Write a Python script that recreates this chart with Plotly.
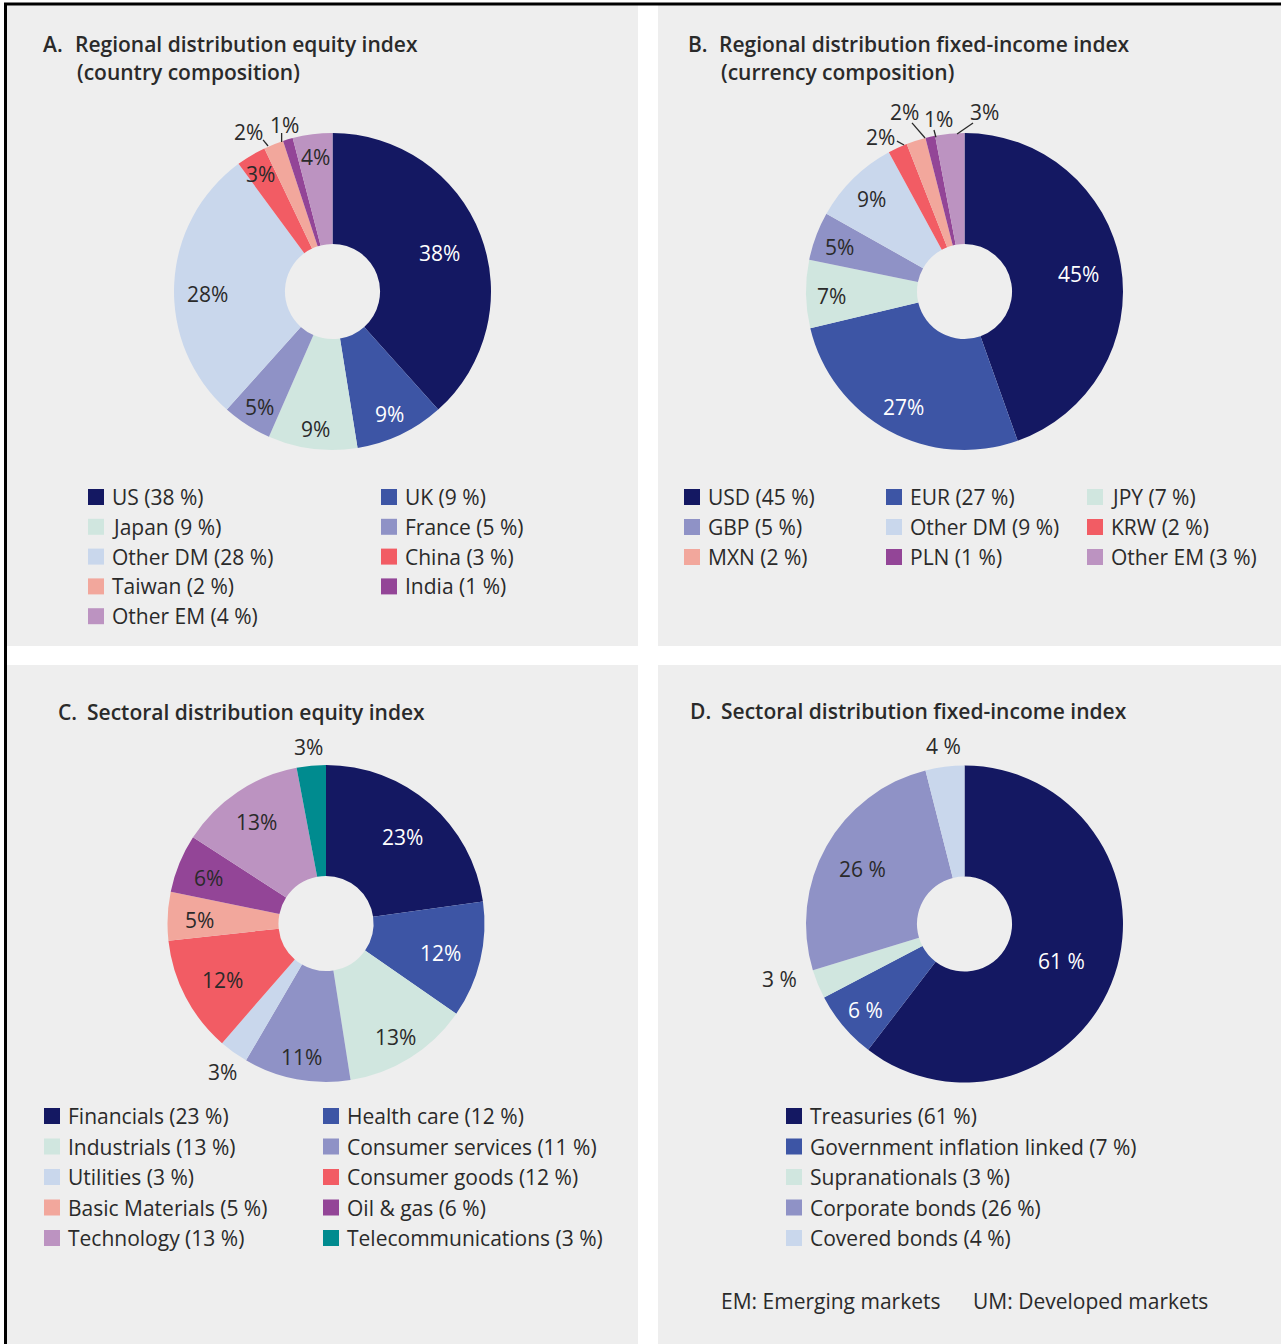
import math
import plotly.graph_objects as go

W, H = 1281, 1344

# ---------------- data ----------------
A_labels = ["US", "UK", "Japan", "France", "Other DM", "China", "Taiwan", "India", "Other EM"]
A_values = [38, 9, 9, 5, 28, 3, 2, 1, 4]

B_labels = ["USD", "EUR", "JPY", "GBP", "Other DM", "KRW", "MXN", "PLN", "Other EM"]
B_values = [45, 27, 7, 5, 9, 2, 2, 1, 3]

C_labels = ["Financials", "Health care", "Industrials", "Consumer services", "Utilities",
            "Consumer goods", "Basic Materials", "Oil & gas", "Technology", "Telecommunications"]
C_values = [23, 12, 13, 11, 3, 12, 5, 6, 13, 3]

D_labels = ["Treasuries", "Government inflation linked", "Supranationals", "Corporate bonds", "Covered bonds"]
D_values = [61, 7, 3, 26, 4]
D_slice_text = ["61 %", "6 %", "3 %", "26 %", "4 %"]

# ---------------- styles ----------------
NAVY = "#141862"; BLUE = "#3d55a5"; MINT = "#d0e6df"; LAV = "#8f92c6"; LBLUE = "#c9d7ec"
RED = "#f25c64"; SALMON = "#f2a79c"; PURPLE = "#934597"; LPURP = "#bc93c1"; TEAL = "#008b8f"
BG = "#eeeeee"
TXT = "#2a2a2a"
FONT = "Open Sans"
FS = 21
LBL_DY = 2.5  # visual centering nudge for inside slice labels

A_colors = [NAVY, BLUE, MINT, LAV, LBLUE, RED, SALMON, PURPLE, LPURP]
B_colors = [NAVY, BLUE, MINT, LAV, LBLUE, RED, SALMON, PURPLE, LPURP]
C_colors = [NAVY, BLUE, MINT, LAV, LBLUE, RED, SALMON, PURPLE, LPURP, TEAL]
D_colors = [NAVY, BLUE, MINT, LAV, LBLUE]
WHITE_ON = {NAVY, BLUE}

# label placement: (angle override in deg or None, radius factor)
A_lbl = [(None, .72), (None, .84), (None, .86), (None, .85), (270.0, .79), (None, .88),
         (332.1, 1.139), (343.8, 1.094), (None, .87)]
A_lines = {6: ((336.1, 1.004), (335.4, 1.052)), 7: ((341.2, 0.996), (342.2, 1.05))}
B_lbl = [(None, .73), (None, .81), (None, .84), (None, .84), (None, .84),
         (331.3, 1.11), (341.4, 1.195), (351.3, 1.10), (6.5, 1.14)]
B_lines = {5: ((337.6, 1.0), (335.8, 1.04)), 6: ((345.6, 1.0), (342.7, 1.114)),
           7: ((349.5, 0.99), (349.3, 1.037)), 8: ((357.3, 0.995), (2.9, 1.064))}
C_lbl = [(None, .74), (None, .74), (None, .83), (None, .84), (215, 1.14), (None, .74),
         (None, .80), (None, .80), (None, .79), (354.5, 1.12)]
D_lbl = [(109.7, .65), (None, .82), (253.5, 1.22), (None, .74), (353.4, 1.13)]


def px(x):
    return x / W


def py(y):
    return 1 - y / H


fig = go.Figure()
shapes = []
annotations = []

# panels
for (x0, y0, x1, y1) in [(7, 5, 638, 646), (658, 5, 1281, 646), (7, 665, 638, 1344), (658, 665, 1281, 1344)]:
    shapes.append(dict(type="rect", xref="paper", yref="paper", x0=px(x0), x1=px(x1), y0=py(y1), y1=py(y0),
                       fillcolor=BG, line=dict(width=0), layer="below"))
# frame lines
shapes.append(dict(type="line", xref="paper", yref="paper", x0=px(4), x1=px(1281), y0=py(4), y1=py(4),
                   line=dict(color="black", width=3), layer="above"))
shapes.append(dict(type="line", xref="paper", yref="paper", x0=px(5.5), x1=px(5.5), y0=py(1344), y1=py(3),
                   line=dict(color="black", width=3), layer="above"))


def add_pie(labels, values, colors, texts, cx, cy, R, hole, lbl, lines):
    fig.add_trace(go.Pie(
        labels=labels, values=values, sort=False, direction="clockwise", rotation=0,
        hole=hole, textinfo="none", hoverinfo="label+value",
        marker=dict(colors=colors, line=dict(width=0)),
        domain=dict(x=[px(cx - R), px(cx + R)], y=[py(cy + R), py(cy - R)]),
        showlegend=False))
    total = float(sum(values))
    cum = 0.0
    for i, v in enumerate(values):
        mid = (cum + v / 2) / total * 360
        cum += v
        ang, rf = lbl[i]
        a = math.radians(mid if ang is None else ang)
        x = cx + rf * R * math.sin(a)
        y = cy - rf * R * math.cos(a) + (LBL_DY if rf < 1 else 0)
        col = "white" if (rf < 1 and colors[i] in WHITE_ON) else TXT
        annotations.append(dict(x=px(x), y=py(y), xref="paper", yref="paper", text=texts[i],
                                showarrow=False, xanchor="center", yanchor="middle",
                                font=dict(family=FONT, size=FS, color=col)))
        if i in lines:
            (a1, r1), (a2, r2) = lines[i]
            x1 = cx + r1 * R * math.sin(math.radians(a1)); y1 = cy - r1 * R * math.cos(math.radians(a1))
            x2 = cx + r2 * R * math.sin(math.radians(a2)); y2 = cy - r2 * R * math.cos(math.radians(a2))
            shapes.append(dict(type="line", xref="paper", yref="paper", x0=px(x1), y0=py(y1),
                               x1=px(x2), y1=py(y2), line=dict(color=TXT, width=1.3)))


def add_legend(labels, legend_vals, colors, x_sq, y0, dy, ncols):
    for i, lab in enumerate(labels):
        r, c = divmod(i, ncols)
        sx = x_sq[c]
        yc = y0 + r * dy
        shapes.append(dict(type="rect", xref="paper", yref="paper", x0=px(sx), x1=px(sx + 16),
                           y0=py(yc + 8), y1=py(yc - 8), fillcolor=colors[i], line=dict(width=0)))
        annotations.append(dict(x=px(sx + 22), y=py(yc), xref="paper", yref="paper",
                                text=f"{lab} ({legend_vals[i]} %)", showarrow=False,
                                xanchor="left", yanchor="middle",
                                font=dict(family=FONT, size=FS, color=TXT)))


def add_title(letter, lx, tx, lines_, y0, dy=28):
    annotations.append(dict(x=px(lx), y=py(y0), xref="paper", yref="paper", text=letter, showarrow=False,
                            xanchor="left", yanchor="middle",
                            font=dict(family=FONT, size=21, color=TXT, weight=600)))
    for k, t in enumerate(lines_):
        annotations.append(dict(x=px(tx[k]), y=py(y0 + k * dy), xref="paper", yref="paper", text=t,
                                showarrow=False, xanchor="left", yanchor="middle",
                                font=dict(family=FONT, size=21, color=TXT, weight=600)))


# Panel A
add_title("A.", 41, [73, 75], ["Regional distribution equity index", "(country composition)"], 44)
add_pie(A_labels, A_values, A_colors, [f"{v}%" for v in A_values], 332.5, 291.5, 158.5, 0.30, A_lbl, A_lines)
add_legend(A_labels, A_values, A_colors, [88, 381], 497, 29.8, 2)

# Panel B
add_title("B.", 686, [717, 719], ["Regional distribution fixed-income index", "(currency composition)"], 44)
add_pie(B_labels, B_values, B_colors, [f"{v}%" for v in B_values], 964.5, 291.5, 158.5, 0.30, B_lbl, B_lines)
add_legend(B_labels, B_values, B_colors, [684, 886, 1087], 497, 30, 3)

# Panel C
add_title("C.", 56, [85], ["Sectoral distribution equity index"], 712)
add_pie(C_labels, C_values, C_colors, [f"{v}%" for v in C_values], 326, 923.5, 158.5, 0.30, C_lbl, {})
add_legend(C_labels, C_values, C_colors, [44, 323], 1116, 30.5, 2)

# Panel D
add_title("D.", 688, [719], ["Sectoral distribution fixed-income index"], 711)
add_pie(D_labels, D_values, D_colors, D_slice_text, 964.5, 924, 158.5, 0.30, D_lbl, {})
add_legend(D_labels, D_values, D_colors, [786], 1116, 30.5, 1)

# footnote
annotations.append(dict(x=px(719), y=py(1301), xref="paper", yref="paper", text="EM: Emerging markets",
                        showarrow=False, xanchor="left", yanchor="middle",
                        font=dict(family=FONT, size=FS, color=TXT)))
annotations.append(dict(x=px(971), y=py(1301), xref="paper", yref="paper", text="UM: Developed markets",
                        showarrow=False, xanchor="left", yanchor="middle",
                        font=dict(family=FONT, size=FS, color=TXT)))

fig.update_layout(width=W, height=H, margin=dict(l=0, r=0, t=0, b=0, pad=0, autoexpand=False),
                  paper_bgcolor="white", plot_bgcolor="white", showlegend=False,
                  shapes=shapes, annotations=annotations, font=dict(family=FONT, color=TXT))

fig.write_html("out.html", config={"displayModeBar": False},
               post_script="document.body.style.margin='0';document.body.style.overflow='hidden';")
